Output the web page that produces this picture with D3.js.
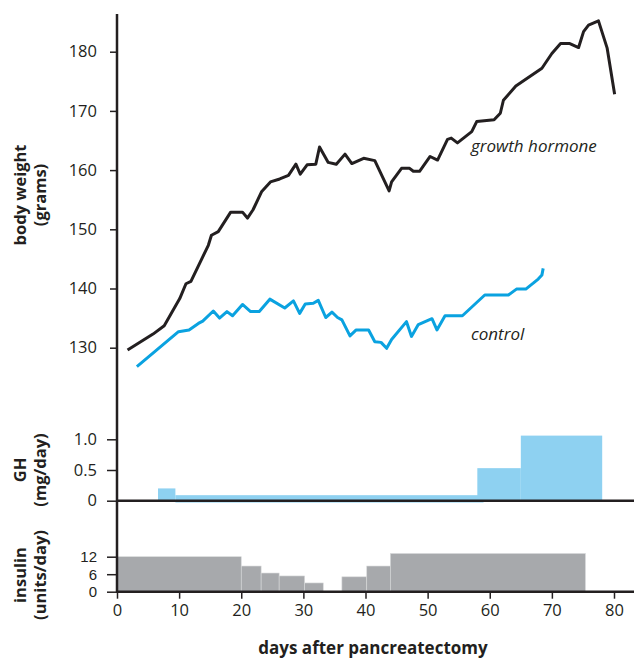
<!DOCTYPE html>
<html><head><meta charset="utf-8">
<script src="https://cdn.jsdelivr.net/npm/d3@7"></script>
<style>body{margin:0;background:#fff;} text{font-family:"Open Sans",sans-serif;fill:#231f20;}</style>
</head><body>
<svg id="c" width="635" height="658"></svg>
<script>
// ---- data ----
const ghDays = [1.7,5.8,7.6,10.1,11.1,11.9,14.7,15.2,16.3,18.3,20.2,21.0,21.9,23.3,24.7,26.2,27.6,28.8,29.5,30.6,32.0,32.6,34.0,35.3,36.7,37.8,39.7,41.5,43.8,44.2,45.8,47.1,47.7,48.7,50.4,51.6,53.2,53.8,54.8,57.1,57.9,60.7,61.7,62.2,64.2,68.4,69.1,70.0,71.4,72.8,74.3,75.1,75.9,77.5,78.9,80.1];
const ghWeight = [129.6,132.3,133.7,138.3,140.8,141.2,147.3,149.0,149.6,152.9,152.9,151.9,153.3,156.4,158.0,158.5,159.1,161.0,159.3,160.9,161.0,163.9,161.3,161.0,162.7,161.1,162.0,161.6,156.5,158.0,160.3,160.3,159.8,159.8,162.3,161.7,165.2,165.4,164.6,166.5,168.2,168.5,169.6,171.8,174.2,177.2,178.3,179.7,181.4,181.4,180.7,183.4,184.5,185.2,180.6,172.8];
const ctlDays = [3.2,9.9,11.6,13.1,13.8,15.5,16.5,17.7,18.6,20.2,21.5,22.9,24.6,27.0,28.4,29.4,30.3,31.6,32.4,33.6,34.6,35.5,36.2,37.5,38.5,40.5,41.5,42.5,43.4,44.2,46.6,47.4,48.5,50.7,51.5,52.8,55.6,59.2,63.0,64.3,65.8,67.0,67.8,68.4,68.6];
const ctlWeight = [126.8,132.7,133.0,134.1,134.5,136.2,135.0,136.1,135.4,137.3,136.1,136.1,138.2,136.7,137.9,135.8,137.4,137.5,138.0,135.1,136.0,135.1,134.7,132.0,133.0,133.0,131.0,130.9,129.9,131.4,134.4,131.9,133.9,134.9,133.0,135.4,135.4,138.9,138.9,139.9,139.9,140.9,141.6,142.3,143.4];
const ghStart = [6.6, 9.4, 58.0, 65.0];
const ghEnd   = [9.4, 59.0, 65.0, 78.1];
const ghDose  = [0.2, 0.09, 0.53, 1.06];
const ghBase  = [0, -0.03, 0, 0];
const insStart = [0, 20.0, 23.2, 26.1, 30.2, 36.2, 40.2, 44.0];
const insEnd   = [20.0, 23.2, 26.1, 30.2, 33.2, 40.2, 44.0, 75.4];
const insDose  = [12, 8.8, 6.4, 5.4, 3.0, 5.1, 8.8, 13.1];
const xTicks = [0,10,20,30,40,50,60,70,80];
const wTicks = [130,140,150,160,170,180];
const ghTicks = [0,0.5,1.0];
const insTicks = [0,6,12];

// ---- drawing ----
const svg = d3.select("#c");
const ink = "#231f20";
const x = d3.scaleLinear().domain([0,80]).range([117,614]);
const yW = d3.scaleLinear().domain([130,180]).range([347.7,51.7]);
const yG = d3.scaleLinear().domain([0,1]).range([500.7,439.3]);
const yI = d3.scaleLinear().domain([0,12]).range([591.7,556.7]);

// GH bars
svg.append("g").selectAll("rect").data(ghDose).join("rect")
  .attr("x",(d,i)=>x(ghStart[i])).attr("width",(d,i)=>x(ghEnd[i])-x(ghStart[i]))
  .attr("y",d=>yG(d)).attr("height",(d,i)=>yG(ghBase[i])-yG(d))
  .attr("fill","#8ed1f1");
// insulin bars
svg.append("g").selectAll("rect").data(insDose).join("rect")
  .attr("x",(d,i)=>x(insStart[i])).attr("width",(d,i)=>x(insEnd[i])-x(insStart[i]))
  .attr("y",d=>yI(d)).attr("height",d=>yI(0)-yI(d))
  .attr("fill","#a7a9ac").attr("stroke","#d8d9da").attr("stroke-width",0.6);

// baselines
svg.append("line").attr("x1",117).attr("x2",634).attr("y1",yG(0)).attr("y2",yG(0)).attr("stroke",ink).attr("stroke-width",2.5);
svg.append("line").attr("x1",117).attr("x2",634).attr("y1",yI(0)).attr("y2",yI(0)).attr("stroke",ink).attr("stroke-width",2.5);
// vertical axis
svg.append("line").attr("x1",117).attr("x2",117).attr("y1",14).attr("y2",yI(0)+1.2).attr("stroke",ink).attr("stroke-width",2.5);

function styleAxis(g, size, family){
  g.select(".domain").remove();
  g.selectAll(".tick line").attr("stroke",ink).attr("stroke-width",1.5);
  const t = g.selectAll(".tick text").style("font-size",size+"px").attr("fill",ink);
  if (family) t.style("font-family",family);
}
svg.append("g").attr("transform","translate(117,0)")
  .call(d3.axisLeft(yW).tickValues(wTicks).tickSize(7).tickPadding(13)).call(g=>styleAxis(g,16.5));
svg.append("g").attr("transform","translate(117,0)")
  .call(d3.axisLeft(yG).tickValues(ghTicks).tickSize(10).tickPadding(10).tickFormat(d=>d===0?"0":d3.format(".1f")(d))).call(g=>styleAxis(g,16.5));
svg.append("g").attr("transform","translate(117,0)")
  .call(d3.axisLeft(yI).tickValues(insTicks).tickSize(10).tickPadding(10)).call(g=>styleAxis(g,15,"'Liberation Sans',Arial,sans-serif"));
svg.append("g").attr("transform",`translate(0,${yI(0)})`)
  .call(d3.axisBottom(x).tickValues(xTicks).tickSize(7).tickPadding(6)).call(g=>styleAxis(g,16.5));

// lines
const line = d3.line().curve(d3.curveLinear);
svg.append("path").attr("d",line(ghDays.map((d,i)=>[x(d),yW(ghWeight[i])])))
  .attr("fill","none").attr("stroke",ink).attr("stroke-width",3).attr("stroke-linejoin","round");
svg.append("path").attr("d",line(ctlDays.map((d,i)=>[x(d),yW(ctlWeight[i])])))
  .attr("fill","none").attr("stroke","#0aa2e0").attr("stroke-width",3).attr("stroke-linejoin","round");

// series labels
svg.append("text").attr("x",471).attr("y",152).style("font-size","17px").style("font-style","italic").text("growth hormone");
svg.append("text").attr("x",471).attr("y",340).style("font-size","17px").style("font-style","italic").text("control");

// axis titles
function vtitle(cx, cy, lines){
  const t = svg.append("text").attr("transform",`translate(${cx},${cy}) rotate(-90)`)
    .attr("text-anchor","middle").style("font-size","16.5px").style("font-weight","bold");
  lines.forEach((l,i)=>t.append("tspan").attr("x",0).attr("dy",i===0?0:20).text(l));
}
vtitle(26,195,["body weight","(grams)"]);
vtitle(26,470,["GH","(mg/day)"]);
vtitle(26,575,["insulin","(units/day)"]);
svg.append("text").attr("x",373).attr("y",654).attr("text-anchor","middle")
  .style("font-size","17px").style("font-weight","bold").text("days after pancreatectomy");
</script>
</body></html>
